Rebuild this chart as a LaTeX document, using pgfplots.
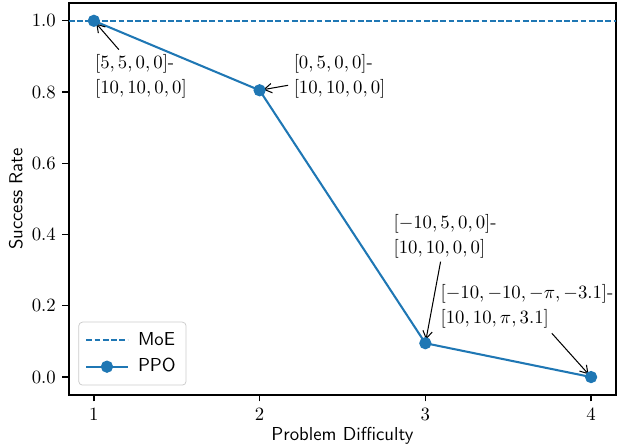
\documentclass[border=0pt]{standalone}
\usepackage{pgfplots}
\pgfplotsset{compat=1.18}
\usetikzlibrary{arrows.meta}
\definecolor{tabblue}{HTML}{1F77B4}
\begin{document}
\begin{tikzpicture}
\begin{axis}[
  scale only axis, width=291.7pt, height=209pt,
  xmin=0.85, xmax=4.15, ymin=-0.05, ymax=1.05,
  xtick={1,2,3,4}, ytick={0,0.2,0.4,0.6,0.8,1.0},
  yticklabel style={/pgf/number format/.cd, fixed, fixed zerofill, precision=1},
  tick align=outside, xtick pos=lower, ytick pos=left,
  major tick length=3.5pt,
  axis line style={line width=0.7pt},
  tick style={line width=0.7pt, black},
  xlabel={\sffamily Problem Difficulty}, ylabel={\sffamily Success Rate},
  xlabel style={yshift=3pt},
  ylabel style={yshift=-2pt},
  legend style={at={(0,0)}, anchor=south west, xshift=5pt, yshift=5pt,
    font=\sffamily, draw=black!20, rounded corners=2pt, fill=white,
    fill opacity=0.8, draw opacity=1, text opacity=1, row sep=1.5pt, inner sep=3.5pt,
    /tikz/every odd column/.append style={column sep=3pt}},
  legend cell align=left,
  legend image code/.code={\draw[mark repeat=2,mark phase=2,#1,opacity=1,fill opacity=1,draw opacity=1] plot coordinates {(0pt,0pt)(11pt,0pt)(22pt,0pt)};},
  clip=false,
]
\addplot[tabblue, line width=1.1pt, dash pattern=on 3.1pt off 1.3pt] coordinates {(0.85,1)(4.15,1)};
\addlegendentry{MoE}
\addplot[tabblue, line width=1.1pt, mark=*, mark size=2.7pt, mark options={solid, draw=none, fill=tabblue, fill opacity=1}] coordinates {(1,1.0)(2,0.805)(3,0.095)(4,0.0)};
\addlegendentry{PPO}

\begin{scope}[every node/.style={anchor=west, align=left, inner sep=0pt, font=\fontsize{10}{13.3}\selectfont}]
\node at (axis cs:1.005,0.845) {$[5,5,0,0]$-\\$[10,10,0,0]$};
\node at (axis cs:2.204,0.845) {$[0,5,0,0]$-\\$[10,10,0,0]$};
\node at (axis cs:2.806,0.396) {$[-10,5,0,0]$-\\$[10,10,0,0]$};
\node at (axis cs:3.09,0.198) {$[-10,-10,-\pi,-3.1]$-\\$[10,10,\pi,3.1]$};
\end{scope}
\begin{scope}[-{Straight Barb[length=4pt,width=5pt]}, line width=0.55pt, shorten >=2pt]
\draw (axis cs:1.151,0.919) -- (axis cs:1,1);
\draw (axis cs:2.172,0.819) -- (axis cs:2,0.805);
\draw (axis cs:3.092,0.324) -- (axis cs:3,0.095);
\draw (axis cs:3.763,0.123) -- (axis cs:4,0.0);
\end{scope}
\end{axis}
\pgfresetboundingbox
\useasboundingbox ([shift={(-36.8pt,-27.2pt)}]current axis.south west) rectangle ([shift={(2.7pt,1.6pt)}]current axis.north east);
\end{tikzpicture}
\end{document}
